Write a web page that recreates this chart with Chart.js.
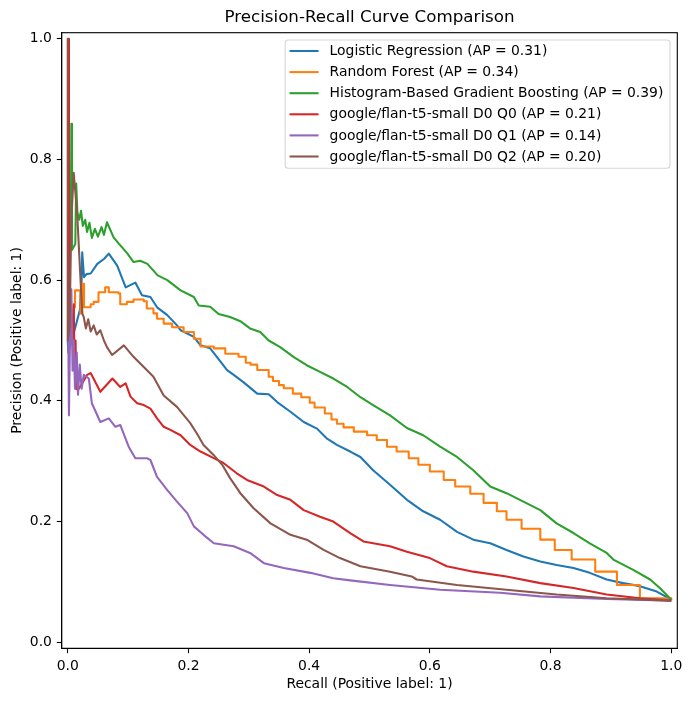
<!DOCTYPE html>
<html>
<head>
<meta charset="utf-8">
<title>Precision-Recall Curve Comparison</title>
<script src="https://cdn.jsdelivr.net/npm/chart.js@4"></script>
<style>
  html, body { margin: 0; padding: 0; background: #fff; }
  #wrap { width: 692px; height: 701px; }
</style>
</head>
<body>
<div id="wrap"><canvas id="prChart" width="692" height="701"></canvas></div>
<script>
// --- data ---
var titleText = 'Precision-Recall Curve Comparison';
var xLabelText = 'Recall (Positive label: 1)';
var yLabelText = 'Precision (Positive label: 1)';
var tickValues = [0, 0.2, 0.4, 0.6, 0.8, 1.0];

var seriesLabels = [
    'Logistic Regression (AP = 0.31)',
    'Random Forest (AP = 0.34)',
    'Histogram-Based Gradient Boosting (AP = 0.39)',
    'google/flan-t5-small D0 Q0 (AP = 0.21)',
    'google/flan-t5-small D0 Q1 (AP = 0.14)',
    'google/flan-t5-small D0 Q2 (AP = 0.20)'
];
var seriesColors = ['#1f77b4', '#ff7f0e', '#2ca02c', '#d62728', '#9467bd', '#8c564b'];

// Logistic Regression
var lrRecall = [0.0, 0.001, 0.004, 0.012, 0.020, 0.023, 0.024, 0.027, 0.031, 0.038, 0.049, 0.060, 0.068, 0.082, 0.096, 0.112, 0.123, 0.137, 0.148, 0.165, 0.181, 0.187, 0.209, 0.220, 0.236, 0.247, 0.264, 0.275, 0.291, 0.314, 0.333, 0.347, 0.369, 0.391, 0.413, 0.429, 0.446, 0.468, 0.485, 0.506, 0.534, 0.562, 0.589, 0.617, 0.645, 0.672, 0.700, 0.727, 0.755, 0.783, 0.810, 0.838, 0.865, 0.893, 0.920, 0.948, 0.976, 1.0];
var lrPrecision = [0.50, 0.48, 0.49, 0.52, 0.55, 0.60, 0.646, 0.605, 0.61, 0.611, 0.627, 0.635, 0.644, 0.624, 0.588, 0.596, 0.575, 0.572, 0.555, 0.542, 0.525, 0.517, 0.506, 0.492, 0.487, 0.473, 0.451, 0.443, 0.431, 0.412, 0.411, 0.398, 0.382, 0.365, 0.354, 0.338, 0.327, 0.316, 0.307, 0.285, 0.261, 0.236, 0.217, 0.203, 0.183, 0.170, 0.164, 0.153, 0.142, 0.134, 0.128, 0.123, 0.115, 0.104, 0.098, 0.093, 0.084, 0.0705];

// Random Forest (each level starts at its recall value)
var rfRecall = [0.004, 0.010, 0.012, 0.021, 0.024, 0.027, 0.038, 0.043, 0.051, 0.062, 0.068, 0.084, 0.087, 0.098, 0.109, 0.126, 0.131, 0.142, 0.148, 0.159, 0.173, 0.192, 0.209, 0.220, 0.242, 0.261, 0.283, 0.295, 0.303, 0.314, 0.333, 0.340, 0.350, 0.358, 0.373, 0.387, 0.401, 0.409, 0.426, 0.437, 0.446, 0.457, 0.474, 0.496, 0.512, 0.529, 0.545, 0.565, 0.581, 0.600, 0.623, 0.642, 0.667, 0.689, 0.711, 0.727, 0.752, 0.783, 0.807, 0.835, 0.874, 0.910, 0.948, 1.0];
var rfPrecision = [0.53, 0.555, 0.583, 0.545, 0.594, 0.555, 0.560, 0.564, 0.580, 0.588, 0.580, 0.578, 0.560, 0.564, 0.568, 0.565, 0.553, 0.545, 0.536, 0.528, 0.522, 0.514, 0.503, 0.490, 0.487, 0.478, 0.473, 0.463, 0.460, 0.451, 0.440, 0.433, 0.426, 0.421, 0.412, 0.406, 0.397, 0.389, 0.379, 0.369, 0.362, 0.356, 0.349, 0.343, 0.335, 0.324, 0.316, 0.305, 0.294, 0.283, 0.269, 0.258, 0.246, 0.231, 0.217, 0.203, 0.188, 0.170, 0.153, 0.137, 0.117, 0.095, 0.073, 0.069];

// Histogram-Based Gradient Boosting
var hgbRecall = [0.005, 0.006, 0.007, 0.0125, 0.014, 0.016, 0.019, 0.022, 0.025, 0.029, 0.032, 0.036, 0.040, 0.045, 0.050, 0.056, 0.060, 0.065, 0.076, 0.085, 0.099, 0.109, 0.120, 0.132, 0.149, 0.165, 0.187, 0.209, 0.217, 0.236, 0.250, 0.269, 0.286, 0.302, 0.319, 0.333, 0.352, 0.374, 0.396, 0.418, 0.440, 0.463, 0.485, 0.506, 0.534, 0.562, 0.589, 0.617, 0.645, 0.672, 0.700, 0.727, 0.755, 0.783, 0.810, 0.838, 0.865, 0.893, 0.904, 0.937, 0.965, 0.981, 1.0];
var hgbPrecision = [0.65, 0.859, 0.65, 0.66, 0.76, 0.712, 0.70, 0.715, 0.69, 0.70, 0.68, 0.695, 0.67, 0.685, 0.672, 0.688, 0.675, 0.696, 0.671, 0.66, 0.644, 0.63, 0.632, 0.627, 0.608, 0.600, 0.583, 0.572, 0.558, 0.556, 0.544, 0.539, 0.532, 0.520, 0.514, 0.500, 0.489, 0.473, 0.459, 0.448, 0.437, 0.423, 0.406, 0.393, 0.376, 0.355, 0.343, 0.324, 0.307, 0.285, 0.258, 0.247, 0.233, 0.219, 0.197, 0.181, 0.164, 0.148, 0.137, 0.120, 0.104, 0.090, 0.0705];

// google/flan-t5-small D0 Q0
var q0Recall = [0.002, 0.002, 0.008, 0.010, 0.011, 0.013, 0.014, 0.017, 0.024, 0.032, 0.038, 0.054, 0.074, 0.087, 0.096, 0.104, 0.115, 0.126, 0.137, 0.148, 0.159, 0.170, 0.187, 0.203, 0.220, 0.242, 0.258, 0.280, 0.297, 0.325, 0.347, 0.369, 0.391, 0.418, 0.440, 0.468, 0.490, 0.534, 0.562, 0.600, 0.628, 0.672, 0.727, 0.783, 0.838, 0.893, 0.948, 1.0];
var q0Precision = [1.0, 0.50, 0.52, 0.56, 0.47, 0.50, 0.42, 0.418, 0.429, 0.443, 0.446, 0.415, 0.437, 0.423, 0.429, 0.407, 0.396, 0.393, 0.387, 0.371, 0.357, 0.352, 0.343, 0.327, 0.316, 0.305, 0.297, 0.280, 0.269, 0.258, 0.244, 0.236, 0.219, 0.208, 0.200, 0.181, 0.167, 0.159, 0.150, 0.1395, 0.126, 0.117, 0.109, 0.098, 0.090, 0.079, 0.073, 0.069];

// google/flan-t5-small D0 Q1
var q1Recall = [0.001, 0.002, 0.004, 0.006, 0.008, 0.010, 0.012, 0.015, 0.017, 0.020, 0.023, 0.0265, 0.035, 0.040, 0.054, 0.068, 0.079, 0.087, 0.101, 0.112, 0.131, 0.137, 0.148, 0.165, 0.181, 0.198, 0.209, 0.225, 0.242, 0.275, 0.302, 0.325, 0.358, 0.402, 0.440, 0.468, 0.534, 0.617, 0.716, 0.783, 0.893, 1.0];
var q1Precision = [0.50, 0.376, 0.52, 0.585, 0.45, 0.50, 0.42, 0.48, 0.41, 0.46, 0.42, 0.443, 0.437, 0.396, 0.365, 0.371, 0.357, 0.36, 0.324, 0.305, 0.305, 0.302, 0.274, 0.252, 0.233, 0.214, 0.192, 0.178, 0.164, 0.159, 0.148, 0.131, 0.123, 0.115, 0.106, 0.1025, 0.095, 0.087, 0.082, 0.076, 0.0717, 0.069];

// google/flan-t5-small D0 Q2
var q2Recall = [0.0, 0.0, 0.003, 0.006, 0.0099, 0.0156, 0.021, 0.024, 0.0265, 0.030, 0.034, 0.038, 0.043, 0.048, 0.054, 0.060, 0.065, 0.0735, 0.093, 0.109, 0.126, 0.142, 0.159, 0.181, 0.203, 0.214, 0.225, 0.242, 0.256, 0.269, 0.286, 0.308, 0.336, 0.369, 0.396, 0.424, 0.451, 0.485, 0.534, 0.570, 0.578, 0.645, 0.727, 0.810, 0.893, 1.0];
var q2Precision = [1.0, 0.50, 0.52, 0.70, 0.778, 0.71, 0.605, 0.545, 0.539, 0.52, 0.535, 0.515, 0.525, 0.51, 0.517, 0.50, 0.489, 0.476, 0.492, 0.473, 0.456, 0.44, 0.409, 0.39, 0.363, 0.346, 0.327, 0.310, 0.294, 0.272, 0.247, 0.222, 0.197, 0.178, 0.170, 0.153, 0.1395, 0.126, 0.117, 0.109, 0.104, 0.095, 0.087, 0.079, 0.073, 0.069];

// --- chart ---
var FONT = "'DejaVu Sans', sans-serif";
var TICK_PX = 13.9;
var TITLE_PX = 16.7;
var LINE_W = 2.08;

function toPoints(xs, ys) {
    return xs.map(function (x, i) { return { x: x, y: ys[i] }; });
}

function setTicks(scale) {
    scale.ticks = tickValues.map(function (v) { return { value: v }; });
}

var seriesData = [
    toPoints(lrRecall, lrPrecision),
    toPoints(rfRecall, rfPrecision),
    toPoints(hgbRecall, hgbPrecision),
    toPoints(q0Recall, q0Precision),
    toPoints(q1Recall, q1Precision),
    toPoints(q2Recall, q2Precision)
];

var datasets = seriesData.map(function (pts, i) {
    return {
        label: seriesLabels[i],
        data: pts,
        borderColor: seriesColors[i],
        backgroundColor: seriesColors[i],
        borderWidth: LINE_W,
        borderJoinStyle: 'round',
        pointRadius: 0,
        fill: false,
        tension: 0,
        // horizontal first, then drop (matplotlib steps-post)
        stepped: i === 1 ? true : false,
        // later series sit on top, like matplotlib
        order: seriesData.length - 1 - i
    };
});

// title, axis titles, full frame and legend box drawn by hand
var decorations = {
    id: 'decorations',
    afterDraw: function (chart) {
        var c = chart.ctx;
        var a = chart.chartArea;
        var cx = (a.left + a.right) / 2;
        var cy = (a.top + a.bottom) / 2;

        c.save();
        c.strokeStyle = '#000';
        c.lineWidth = 1.1;
        c.strokeRect(a.left, a.top, a.right - a.left, a.bottom - a.top);

        c.fillStyle = '#000';
        c.textAlign = 'center';
        c.textBaseline = 'alphabetic';
        c.font = TITLE_PX + 'px ' + FONT;
        c.fillText(titleText, cx, 22);

        c.font = TICK_PX + 'px ' + FONT;
        c.fillText(xLabelText, cx, 688);

        c.save();
        c.translate(20.5, cy);
        c.rotate(-Math.PI / 2);
        c.fillText(yLabelText, 0, 0);
        c.restore();

        // legend
        var maxW = 0;
        seriesLabels.forEach(function (t) {
            maxW = Math.max(maxW, c.measureText(t).width);
        });
        var rowH = 21.1;
        var boxW = 4.4 + 29 + 11 + maxW + 6.7;
        var boxH = 128.3;
        var bx = a.right - 7.3 - boxW;
        var by = a.top + 7.3;

        c.beginPath();
        c.roundRect(bx, by, boxW, boxH, 3);
        c.fillStyle = 'rgba(255,255,255,0.8)';
        c.fill();
        c.strokeStyle = 'rgba(204,204,204,0.8)';
        c.lineWidth = 1.1;
        c.stroke();

        c.textAlign = 'left';
        c.textBaseline = 'middle';
        seriesLabels.forEach(function (t, i) {
            var y = by + 11 + i * rowH;
            c.beginPath();
            c.moveTo(bx + 4.4, y);
            c.lineTo(bx + 4.4 + 29, y);
            c.strokeStyle = seriesColors[i];
            c.lineWidth = LINE_W;
            c.stroke();
            c.fillStyle = '#000';
            c.fillText(t, bx + 4.4 + 29 + 11, y + 0.5);
        });
        c.restore();
    }
};

var axisCommon = {
    type: 'linear',
    min: -0.01,
    max: 1.01,
    afterBuildTicks: setTicks,
    ticks: {
        callback: function (v) { return v.toFixed(1); },
        color: '#000',
        font: { family: FONT, size: TICK_PX },
        padding: 4.9,
        autoSkip: false,
        maxRotation: 0
    },
    grid: {
        display: true,
        drawOnChartArea: false,
        drawTicks: true,
        tickLength: 4.9,
        tickWidth: 1.1,
        tickColor: '#000'
    },
    border: { display: true, color: '#000', width: 1.1 }
};

var ctx = document.getElementById('prChart').getContext('2d');
var chart = new Chart(ctx, {
    type: 'line',
    data: { datasets: datasets },
    options: {
        responsive: false,
        animation: false,
        events: [],
        layout: { padding: { left: 0, right: 14.7, top: 32.7, bottom: 0 } },
        plugins: {
            legend: { display: false },
            title: { display: false },
            tooltip: { enabled: false }
        },
        scales: {
            x: Object.assign({}, axisCommon, {
                position: 'bottom',
                afterFit: function (s) { s.height = 52.7; }
            }),
            y: Object.assign({}, axisCommon, {
                position: 'left',
                afterFit: function (s) { s.width = 61.7; }
            })
        }
    },
    plugins: [decorations]
});
</script>
</body>
</html>
